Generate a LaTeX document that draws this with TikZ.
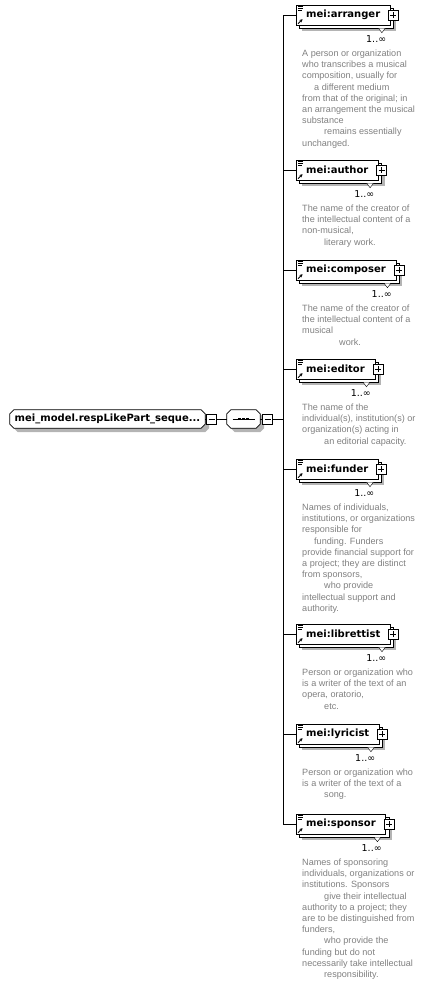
\documentclass[tikz,border=0pt]{standalone}
\usepackage{fontspec}
\usetikzlibrary{calc,arrows.meta}
\newfontfamily\hdfont{DejaVu Sans}
\newfontfamily\dsfont{Liberation Sans}
\definecolor{descgray}{RGB}{128,128,128}
\definecolor{shadowc}{RGB}{180,180,180}
\pgfdeclarelayer{background}
\pgfsetlayers{background,main}
\tikzset{
  elem/.style={draw, fill=white, anchor=west, minimum height=20pt, inner xsep=10pt, inner ysep=0pt,
    font=\hdfont\bfseries\fontsize{10}{12}\selectfont},
  topnode/.style={minimum width=195pt, minimum height=18pt, inner sep=0pt,
    font=\hdfont\bfseries\fontsize{10}{12}\selectfont},
  seqnode/.style={minimum width=33pt, minimum height=18pt, inner sep=0pt},
  desc/.style={anchor=north west, align=left, inner sep=0pt, text=descgray,
    font=\dsfont\fontsize{9.1}{11.2}\selectfont},
  card/.style={anchor=east, inner sep=0pt, font=\hdfont\fontsize{9.5}{11}\selectfont},
  pm/.style={draw, fill=white, minimum size=10pt, inner sep=0pt},
  conn/.style={draw, line width=0.8pt},
}
% chamfered outline around a node: #1 node, #2 offset, #3 path options
\newcommand\chamfbox[3]{%
  \path[#3] ($(#1.north west)+({4+#2},{-#2})$) -- ($(#1.north east)+({-4+#2},{-#2})$)
    -- ($(#1.north east)+({#2},{-4-#2})$) -- ($(#1.south east)+({#2},{4-#2})$)
    -- ($(#1.south east)+({-4+#2},{-#2})$) -- ($(#1.south west)+({4+#2},{-#2})$)
    -- ($(#1.south west)+({#2},{4-#2})$) -- ($(#1.north west)+({#2},{-4-#2})$) -- cycle;}
% element: #1 name, #2 centre y, #3 label, #4 description
\newcommand\xelem[4]{%
  \node[elem] (#1) at (296,-#2) {#3};
  \begin{pgfonlayer}{background}
    \fill[shadowc] ($(#1.north west)+(6,-6)$) rectangle ($(#1.south east)+(6,-6)$);
    \draw[fill=white] ($(#1.north west)+(3,-3)$) rectangle ($(#1.south east)+(3,-3)$);
  \end{pgfonlayer}
  \draw[fill=white] ($(#1.south east)+(-12,-3)$) -- ($(#1.south east)+(-5,-3)$) -- ($(#1.south east)+(-8.5,-7.5)$) -- cycle;
  \draw[line width=0.7pt] ($(#1.north west)+(2,-1.8)$) -- ++(5,0);
  \draw[line width=0.7pt] ($(#1.north west)+(2,-3.8)$) -- ++(5,0);
  \draw[line width=0.7pt] ($(#1.north west)+(2,-5.8)$) -- ++(4,0);
  \draw[line width=0.8pt, -{Stealth[length=3pt,width=3.2pt]}] ($(#1.south west)+(2,1.5)$) -- ++(4.5,4.5);
  \node[pm] (#1p) at ($(#1.east)+(3,0)$) {};
  \draw ($(#1p.center)+(-3,0)$) -- ($(#1p.center)+(3,0)$);
  \draw ($(#1p.center)+(0,-3)$) -- ($(#1p.center)+(0,3)$);
  \node[card] (#1c) at ($(#1.east)+(-4,-24)$) {1..∞};
  \node[desc] (#1d) at ($(#1.west)+(6,-34.3)$) {\rule{0pt}{7pt}#4};
  \draw[conn] (trunk |- #1.west) -- (#1.west);
}
\begin{document}
\begin{tikzpicture}[x=1pt,y=1pt]
\useasboundingbox (0,0) rectangle (429,-985);
% top node
\node[topnode] (L) at (107.5,-419) {mei\_model.respLikePart\_seque...};
\begin{pgfonlayer}{background}
  \chamfbox{L}{4}{fill=shadowc}
  \chamfbox{L}{0}{draw, fill=white, line width=0.8pt}
\end{pgfonlayer}
\node[pm] (lm) at (211.5,-419) {};
\draw ($(lm.center)+(-3,0)$) -- ($(lm.center)+(3,0)$);
% sequence compositor
\node[seqnode] (seq) at (243.5,-419) {};
\begin{pgfonlayer}{background}
  \chamfbox{seq}{4}{fill=shadowc}
  \chamfbox{seq}{0}{draw, fill=white, line width=0.8pt}
\end{pgfonlayer}
\draw ($(seq.center)+(-11,0)$) -- ($(seq.center)+(11,0)$);
\foreach \dx in {-4,0,4} \fill ($(seq.center)+(\dx-1.2,-1.2)$) rectangle ++(2.4,2.4);
\node[pm] (sm) at (267.5,-419) {};
\draw ($(sm.center)+(-3,0)$) -- ($(sm.center)+(3,0)$);
\coordinate (trunk) at (283,-419);
\draw[conn] (L.east) -- (lm.west);
\draw[conn] (lm.east) -- (seq.west);
\draw[conn] (seq.east) -- (sm.west);
\draw[conn] (sm.east) -- (trunk);
\draw[conn] (283,-15) -- (283,-824);
% elements
\xelem{arranger}{15}{mei:arranger}{A person or organization\\who transcribes a musical\\composition, usually for\\\hspace*{12pt}a different medium\\from that of the original; in\\an arrangement the musical\\substance\\\hspace*{22pt}remains essentially\\unchanged.}
\xelem{author}{170}{mei:author}{The name of the creator of\\the intellectual content of a\\non-musical,\\\hspace*{22pt}literary work.}
\xelem{composer}{270}{mei:composer}{The name of the creator of\\the intellectual content of a\\musical\\\hspace*{37pt}work.}
\xelem{editor}{369}{mei:editor}{The name of the\\individual(s), institution(s) or\\organization(s) acting in\\\hspace*{22pt}an editorial capacity.}
\xelem{funder}{469}{mei:funder}{Names of individuals,\\institutions, or organizations\\responsible for\\\hspace*{12pt}funding. Funders\\provide financial support for\\a project; they are distinct\\from sponsors,\\\hspace*{22pt}who provide\\intellectual support and\\authority.}
\xelem{librettist}{634}{mei:librettist}{Person or organization who\\is a writer of the text of an\\opera, oratorio,\\\hspace*{22pt}etc.}
\xelem{lyricist}{734}{mei:lyricist}{Person or organization who\\is a writer of the text of a\\\hspace*{22pt}song.}
\xelem{sponsor}{824}{mei:sponsor}{Names of sponsoring\\individuals, organizations or\\institutions. Sponsors\\\hspace*{22pt}give their intellectual\\authority to a project; they\\are to be distinguished from\\funders,\\\hspace*{22pt}who provide the\\funding but do not\\necessarily take intellectual\\\hspace*{22pt}responsibility.}
\end{tikzpicture}
\end{document}
